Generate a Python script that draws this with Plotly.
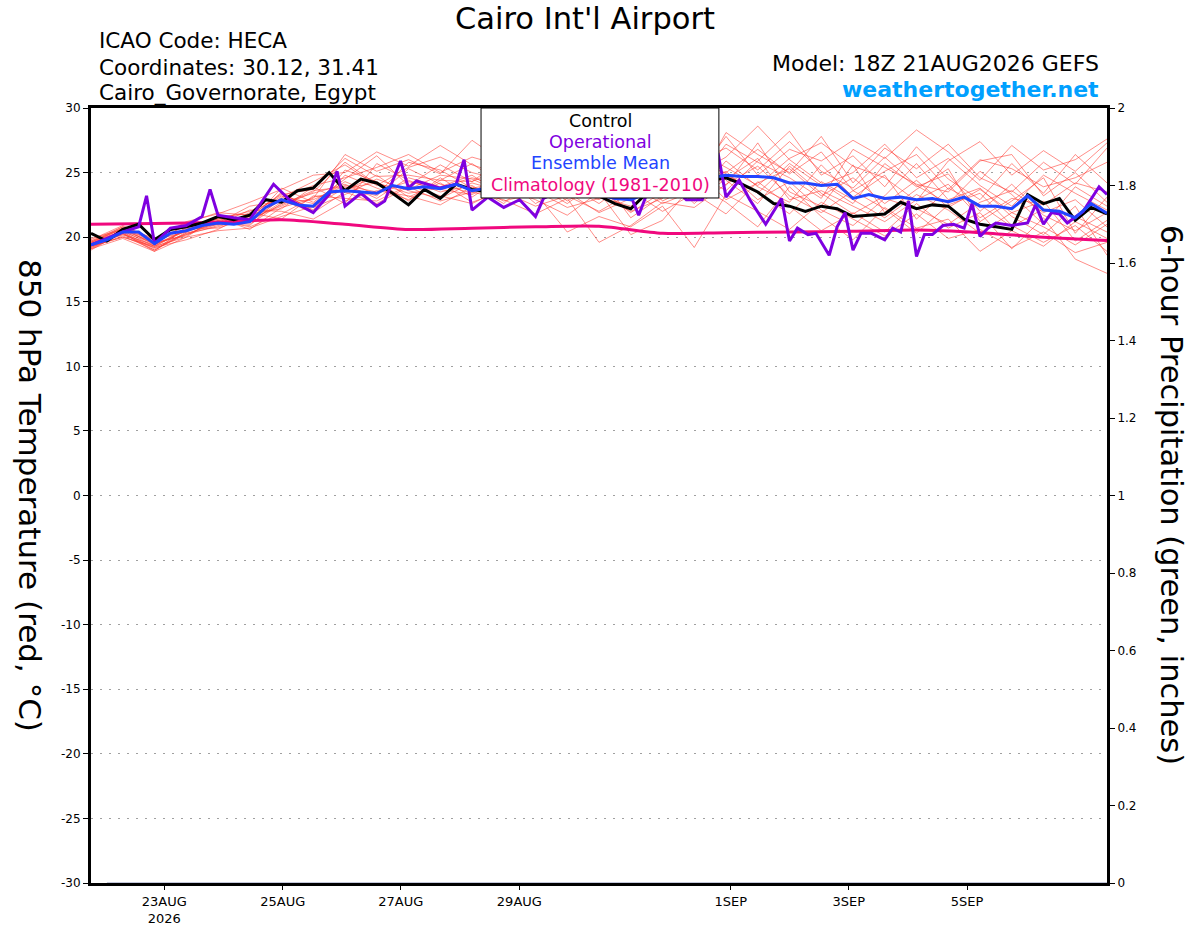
import plotly.graph_objects as go

# ---------------- data ----------------
hours6 = list(range(0, 385, 6))
hours12 = list(range(0, 385, 12))
hours24 = list(range(0, 385, 24))

tick_hours = [27.7, 72.5, 117.1, 161.9, 241.8, 286.4, 331.1]
tick_labels = ["23AUG<br>2026", "25AUG", "27AUG", "29AUG", "1SEP", "3SEP", "5SEP"]

temp_ticks = [-30, -25, -20, -15, -10, -5, 0, 5, 10, 15, 20, 25, 30]
temp_tick_labels = ["-30", "-25", "-20", "-15", "-10", "-5", "0", "5", "10", "15", "20", "25", "30"]
precip_ticks = [0, 0.2, 0.4, 0.6, 0.8, 1, 1.2, 1.4, 1.6, 1.8, 2]
precip_tick_labels = ["0", "0.2", "0.4", "0.6", "0.8", "1", "1.2", "1.4", "1.6", "1.8", "2"]

control = [20.3,19.7,20.6,21.0,19.8,20.6,20.8,21.1,21.6,21.35,
           21.7,22.9,22.7,23.6,23.8,25.0,23.6,24.5,24.2,23.4,
           22.5,23.7,23.0,24.1,23.7,23.5,23.8,23.3,23.6,23.9,
           23.4,23.6,23.2,22.6,22.2,23.4,23.8,24.0,23.6,24.4,
           24.6,24.1,23.5,22.6,22.4,22.0,22.4,22.2,21.6,21.7,
           21.8,22.7,22.2,22.5,22.4,21.4,21.0,20.8,20.6,23.3,
           22.6,23.0,21.3,22.3,21.8]

ens_mean = [19.4,19.8,20.4,20.4,19.5,20.3,20.5,20.9,21.1,21.0,
            21.2,22.3,22.9,22.5,22.4,23.5,23.6,23.5,23.4,24.0,
            23.75,23.9,23.75,24.1,23.6,23.8,23.6,23.7,23.5,23.6,
            23.8,23.5,23.3,23.0,22.9,23.4,23.8,24.1,24.3,24.6,
            24.8,24.7,24.7,24.6,24.2,24.2,24.0,24.1,23.0,23.3,
            23.0,23.1,22.9,23.0,22.75,23.1,22.4,22.4,22.2,23.2,
            22.1,22.0,21.5,22.6,21.85]

op_hours = [0,6,12,18,21,24,30,36,42,45,48,54,60,69,75,84,90,93,96,102,
            108,111,117,120,123,132,138,141,144,150,156,162,168,171,177,183,189,195,201,204,
            207,210,216,222,225,231,237,240,245,249,255,261,264,267,271,274,279,282,285,288,
            291,295,300,303,306,309,312,315,318,322,326,330,333,336,339,342,348,354,357,360,
            363,366,369,375,381,384]
operational = [19.4,19.9,20.4,20.8,23.2,19.5,20.7,20.9,21.6,23.7,21.7,21.5,21.35,24.1,22.9,21.9,23.3,25.1,22.4,23.4,
               22.4,22.8,25.9,23.8,24.35,23.8,24.1,26.0,22.1,23.1,22.3,22.9,21.6,23.0,23.6,24.2,23.7,24.0,23.4,23.2,
               21.7,23.3,23.8,23.5,22.9,22.9,26.5,23.1,24.4,22.9,21.0,23.0,19.7,20.7,20.2,20.3,18.6,20.8,21.9,19.0,
               20.3,20.3,19.8,20.7,20.4,22.8,18.5,20.2,20.2,20.9,21.0,20.7,22.6,20.05,20.7,21.1,20.9,21.1,22.5,21.0,
               21.9,21.8,21.1,22.0,23.9,23.3]

climatology = [21.0,21.05,21.15,21.35,21.0,20.6,20.7,20.8,20.85,20.3,20.35,20.4,20.45,20.55,20.35,20.0,19.75]

precip_hours = list(range(6, 385, 6))
precip = [0.0] * len(precip_hours)

m01 = [19.6,20.5,19.3,20.6,21.3,21.0,22.6,23.4,24.1,23.0,24.6,23.9,24.8,23.2,24.1,25.3,23.6,22.1,24.5,25.8,26.9,25.2,27.4,25.1,23.8,26.2,24.0,22.6,25.1,23.3,21.0,23.9,22.4]
m02 = [19.2,20.1,19.0,20.3,20.8,21.6,23.4,22.1,25.2,24.3,22.8,24.6,23.1,24.7,22.6,23.9,24.8,21.5,23.2,26.1,24.0,27.3,23.5,22.4,25.6,21.9,23.7,25.3,21.2,22.8,24.6,20.3,23.1]
m03 = [19.5,20.7,19.6,20.1,21.5,20.6,22.3,23.0,26.4,25.1,26.0,24.9,27.5,25.8,24.4,23.8,22.9,24.6,25.9,23.7,28.1,26.4,25.0,27.8,24.2,26.9,25.3,27.2,24.6,23.5,25.8,24.1,26.9]
m04 = [19.1,20.3,18.9,20.8,21.0,22.1,22.0,21.4,22.8,23.6,23.2,22.5,23.9,22.8,23.4,20.4,21.6,20.8,22.4,19.2,23.3,22.0,20.6,22.7,21.4,20.1,21.8,19.9,20.6,19.2,20.4,18.8,19.6]
m05 = [19.8,20.9,19.8,20.4,21.7,21.2,23.8,22.7,24.5,26.3,24.0,25.6,24.3,26.1,25.0,26.5,24.7,23.9,26.8,25.0,23.6,25.9,28.2,24.8,26.3,23.9,27.0,24.5,22.9,25.7,23.4,26.4,24.2]
m06 = [19.3,20.0,19.2,19.8,20.6,21.9,21.4,23.2,23.0,22.8,24.0,23.2,22.6,23.8,22.9,21.7,23.5,20.2,21.3,24.2,22.7,20.8,23.9,21.6,19.8,22.3,20.7,21.4,18.9,20.5,19.3,21.2,19.9]
m07 = [19.7,20.6,19.5,21.0,21.2,20.9,23.1,24.3,25.6,24.0,25.4,26.2,25.0,24.4,25.7,24.6,25.9,24.1,23.6,26.7,25.4,24.0,26.1,27.3,25.5,24.6,22.8,25.9,27.4,24.8,26.7,25.1,27.3]
m08 = [19.4,20.2,19.4,20.5,21.1,22.4,22.8,22.3,23.3,24.5,23.6,23.0,24.2,23.5,22.4,23.2,22.0,23.4,24.9,22.6,24.8,23.5,21.8,24.3,22.9,21.5,23.3,22.1,20.3,21.9,22.8,19.7,21.3]
m09 = [19.0,20.4,19.1,20.2,20.9,21.4,22.5,23.6,23.9,23.2,25.3,24.1,23.4,25.2,24.6,22.8,24.2,25.5,22.8,24.0,27.2,25.8,24.6,23.0,26.8,25.4,24.1,23.5,25.9,26.4,23.2,25.0,22.7]
m10 = [19.6,20.8,19.7,20.9,21.4,21.1,23.5,22.0,24.8,23.8,22.9,24.4,25.7,24.0,23.8,25.0,23.1,22.4,24.0,23.1,25.9,23.9,22.7,25.6,23.1,24.8,21.4,23.8,22.5,20.8,22.2,21.6,20.4]
m11 = [19.3,20.0,19.3,20.0,21.6,21.8,22.2,23.9,22.6,25.7,24.4,23.5,24.0,22.6,24.9,23.5,21.9,23.0,25.4,27.0,24.4,22.6,25.5,23.4,21.8,23.2,25.7,22.9,23.8,21.6,20.2,22.4,18.6]
m12 = [19.5,20.5,19.6,20.7,20.7,21.5,23.2,22.6,24.3,23.3,25.8,25.2,23.8,24.2,23.1,24.3,23.7,21.9,23.5,24.8,26.2,28.6,26.0,24.2,22.6,25.7,23.9,24.9,22.0,24.1,21.7,20.5,21.9]
m13 = [19.2,20.3,19.0,20.4,21.3,20.8,21.8,23.1,23.6,24.8,23.1,24.2,22.7,23.6,24.0,22.6,24.4,23.6,22.0,23.4,21.8,24.3,22.4,20.5,21.9,20.4,22.6,20.7,21.9,19.1,21.5,18.3,17.2]
m14 = [19.9,20.6,19.8,21.2,21.8,22.7,23.7,24.8,25.0,26.6,25.5,27.1,25.6,24.8,26.3,25.1,24.0,25.1,26.3,24.5,27.8,24.8,26.8,25.9,27.5,26.1,28.3,26.6,24.4,27.1,25.2,26.0,27.6]
m15 = [19.4,20.2,19.2,20.3,21.0,21.3,22.9,21.9,23.5,22.6,23.9,22.8,23.5,22.9,21.8,23.0,19.6,20.9,22.7,22.3,24.1,25.5,23.2,21.9,23.6,22.2,20.3,22.5,23.4,20.9,19.6,20.9,18.9]
m16 = [19.6,20.7,19.4,20.6,21.4,22.0,23.0,24.0,24.6,25.4,26.4,25.0,26.2,25.5,24.3,24.8,25.3,23.2,24.2,25.6,25.0,26.8,24.9,26.6,23.6,25.1,26.4,23.7,26.0,25.3,23.9,24.6,25.8]
m17 = [19.1,19.9,18.9,20.0,20.5,20.7,21.6,22.4,23.8,24.2,23.4,23.8,24.6,23.9,23.6,22.3,23.0,24.0,22.6,23.6,25.1,22.9,24.3,22.1,20.9,23.0,22.2,21.0,22.7,23.6,21.9,22.9,20.8]
m18 = [19.7,20.8,19.9,21.1,21.9,21.7,23.3,23.7,26.1,24.7,24.8,24.4,24.3,25.4,26.0,24.1,22.6,24.4,25.0,26.2,24.9,23.4,25.7,24.0,25.0,27.2,24.6,26.1,24.0,22.4,24.8,23.4,22.1]
m19 = [19.3,20.4,19.5,20.2,21.2,21.2,22.7,22.9,24.0,23.5,24.3,23.7,23.3,24.5,23.9,23.4,24.0,22.8,23.9,22.8,24.5,26.1,22.9,23.6,22.4,21.2,22.9,24.1,21.5,23.0,22.5,24.2,23.5]
m20 = [19.5,20.3,19.3,20.5,21.0,21.4,22.4,23.5,25.8,24.1,23.7,24.8,24.5,23.4,24.5,23.7,23.3,22.0,23.0,25.3,22.9,24.2,25.3,23.2,24.6,22.6,24.4,22.3,23.7,21.9,20.8,19.4,21.0]
members = [m01, m02, m03, m04, m05, m06, m07, m08, m09, m10,
           m11, m12, m13, m14, m15, m16, m17, m18, m19, m20]

# ---------------- styles ----------------
FONT = "DejaVu Sans, Liberation Sans, Arial, sans-serif"
C_MEMBER = "rgba(255,50,40,0.55)"
C_CONTROL = "#000000"
C_OPER = "#7f00e0"
C_MEAN = "#2244ff"
C_CLIM = "#f0087e"
C_LINK = "#00a0ff"

fig = go.Figure()

for m in members:
    fig.add_trace(go.Scatter(x=hours12, y=m, mode="lines",
                             line=dict(color=C_MEMBER, width=1), hoverinfo="skip"))

fig.add_trace(go.Scatter(x=precip_hours, y=precip, mode="lines", yaxis="y2",
                         line=dict(color="#c4c8dc", width=2)))

fig.add_trace(go.Scatter(x=hours24, y=climatology, mode="lines",
                         line=dict(color=C_CLIM, width=3, shape="spline", smoothing=0.8)))
fig.add_trace(go.Scatter(x=hours6, y=control, mode="lines",
                         line=dict(color=C_CONTROL, width=3)))
fig.add_trace(go.Scatter(x=op_hours, y=operational, mode="lines",
                         line=dict(color=C_OPER, width=3)))
fig.add_trace(go.Scatter(x=hours6, y=ens_mean, mode="lines",
                         line=dict(color=C_MEAN, width=3)))

fig.update_layout(
    width=1200, height=927,
    margin=dict(l=91, r=93, t=108, b=44),
    plot_bgcolor="white", paper_bgcolor="white",
    showlegend=False,
    font=dict(family=FONT, color="black"),
    xaxis=dict(range=[0, 384], tickmode="array", tickvals=tick_hours, ticktext=tick_labels,
               ticks="outside", ticklen=4, tickwidth=1, tickcolor="black",
               showline=True, linewidth=3, linecolor="black", mirror=True,
               showgrid=False, zeroline=False, tickfont=dict(size=13), automargin=False),
    yaxis=dict(range=[-30, 30], tickmode="array", tickvals=temp_ticks, ticktext=temp_tick_labels,
               ticks="outside", ticklen=5, tickwidth=1,
               tickcolor="black", showline=True, linewidth=3, linecolor="black",
               showgrid=True, gridcolor="#a0a0a0", griddash="2px,7px", gridwidth=1,
               zeroline=False, tickfont=dict(size=12), automargin=False),
    yaxis2=dict(range=[0, 2], overlaying="y", side="right", tickmode="array",
                tickvals=precip_ticks, ticktext=precip_tick_labels,
                ticks="outside", ticklen=5, tickwidth=1, tickcolor="black",
                showline=True, linewidth=3, linecolor="black",
                showgrid=False, zeroline=False, tickfont=dict(size=12), automargin=False),
)

# legend box
fig.add_shape(type="rect", xref="paper", yref="paper",
              x0=0.3839, x1=0.618, y0=0.8839, y1=1.0,
              line=dict(color="black", width=1), fillcolor="white", layer="above")

leg = [("Control", C_CONTROL, 0.983), ("Operational", C_OPER, 0.956),
       ("Ensemble Mean", C_MEAN, 0.929), ("Climatology (1981-2010)", C_CLIM, 0.9006)]
for txt, col, yy in leg:
    fig.add_annotation(text=txt, x=0.501, y=yy, xref="paper", yref="paper",
                       showarrow=False, font=dict(size=17.5, color=col),
                       xanchor="center", yanchor="middle")

# header texts
fig.add_annotation(text="Cairo Int'l Airport", x=0.486, y=1.116, xref="paper", yref="paper",
                   showarrow=False, font=dict(size=30.5, color="black"),
                   xanchor="center", yanchor="middle")
for txt, yy in [("ICAO Code: HECA", 1.0877), ("Coordinates: 30.12, 31.41", 1.0529),
                ("Cairo_Governorate, Egypt", 1.0194)]:
    fig.add_annotation(text=txt, x=0.0059, y=yy, xref="paper", yref="paper",
                       showarrow=False, font=dict(size=21.5, color="black"),
                       xanchor="left", yanchor="middle")
fig.add_annotation(text="Model: 18Z 21AUG2026 GEFS", x=0.994, y=1.058, xref="paper", yref="paper",
                   showarrow=False, font=dict(size=22, color="black"),
                   xanchor="right", yanchor="middle")
fig.add_annotation(text="<b>weathertogether.net</b>", x=0.994, y=1.0245, xref="paper", yref="paper",
                   showarrow=False, font=dict(size=22, color=C_LINK),
                   xanchor="right", yanchor="middle")

# axis titles (reading top to bottom)
fig.add_annotation(text="850 hPa Temperature (red, °C)", x=-0.06, y=0.5006,
                   xref="paper", yref="paper", showarrow=False, textangle=90,
                   font=dict(size=31, color="black"), xanchor="center", yanchor="middle")
fig.add_annotation(text="6-hour Precipitation (green, inches)", x=1.064, y=0.5006,
                   xref="paper", yref="paper", showarrow=False, textangle=90,
                   font=dict(size=30.5, color="black"), xanchor="center", yanchor="middle")

fig.write_html("out.html", config={"displayModeBar": False},
               post_script="document.body.style.margin='0px';")
